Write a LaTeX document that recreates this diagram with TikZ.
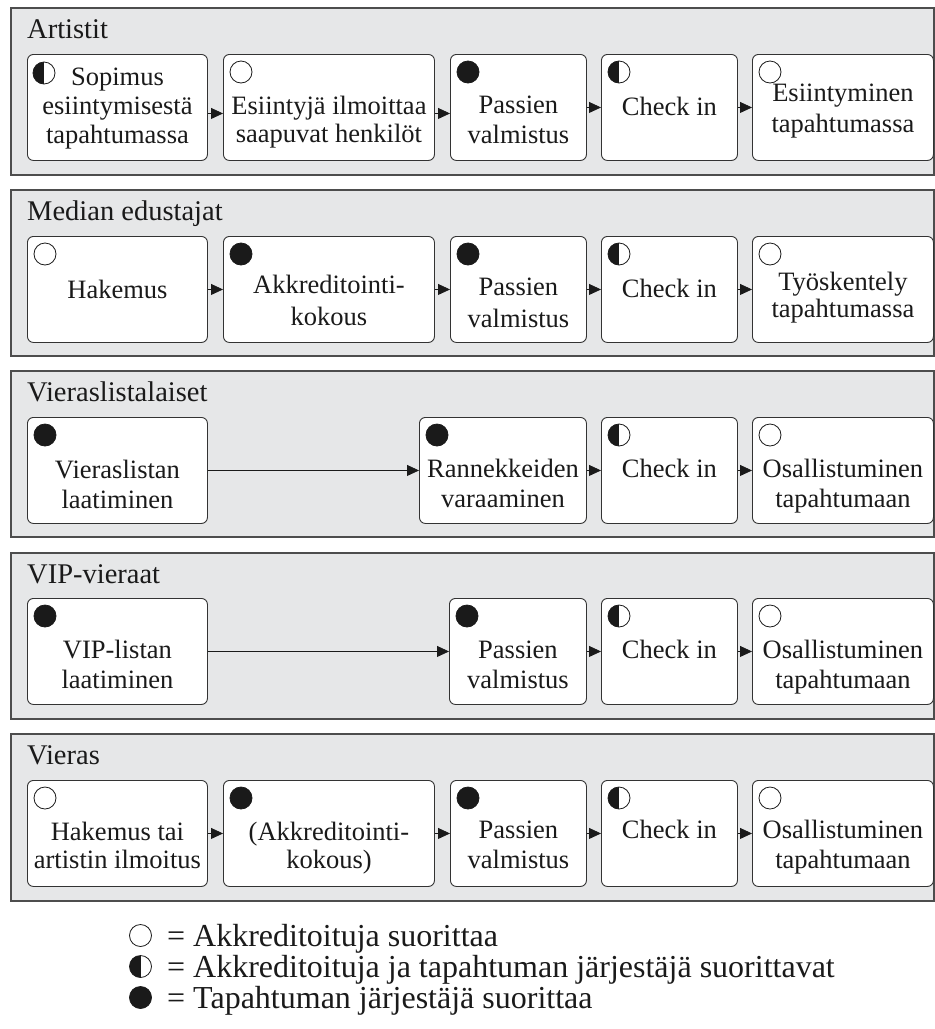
\documentclass[tikz,border=0pt]{standalone}
\usepackage{fontspec}
\setmainfont{Liberation Serif}
\usetikzlibrary{arrows.meta}
\definecolor{lanefill}{HTML}{E6E7E8}
\definecolor{laneline}{HTML}{4D4D4D}
\definecolor{boxline}{HTML}{333333}
\definecolor{ink}{HTML}{1A1A1A}
% centred lines whose reference point is the first baseline
\newcommand{\lns}[1]{\begin{tabular}[t]{@{}c@{}}#1\end{tabular}}

\begin{document}
\begin{tikzpicture}[x=1pt,y=-1pt,
  lane/.style={draw=laneline,fill=lanefill,line width=1.3pt},
  lanetitle/.style={anchor=base west,inner sep=0pt,text=ink,font=\fontsize{28.5}{32}\selectfont},
  actbox/.style={draw=boxline,fill=white,line width=0.9pt,rounded corners=6pt,
    anchor=north west,minimum height=106pt,inner sep=0pt},
  txt/.style={anchor=base,inner sep=0pt,text=ink,font=\fontsize{26.5}{30}\selectfont},
  icon/.style={circle,draw=ink,line width=0.8pt,minimum size=22pt,inner sep=0pt},
  iconopen/.style={icon,fill=white},
  iconfull/.style={icon,fill=ink},
  iconhalf/.style={icon,fill=white,path picture={\fill[ink] (path picture bounding box.south west) rectangle (path picture bounding box.north);}},
  flow/.style={draw=ink,line width=0.8pt,-{Triangle[length=12pt,width=11pt]}},
  legtxt/.style={anchor=base west,inner sep=0pt,text=ink,font=\fontsize{32}{34}\selectfont}
]
\useasboundingbox (0,0) rectangle (935,1029);

% swim lanes
\draw[lane] (11,8) rectangle (934,175);
\draw[lane] (11,190) rectangle (934,356);
\draw[lane] (11,371) rectangle (934,537);
\draw[lane] (11,553) rectangle (934,719);
\draw[lane] (11,734) rectangle (934,901);

\node[lanetitle] (l1) at (27,38) {Artistit};
\node[lanetitle] (l2) at (27,220) {Median edustajat};
\node[lanetitle] (l3) at (27,401) {Vieraslistalaiset};
\node[lanetitle] (l4) at (27,583) {VIP-vieraat};
\node[lanetitle] (l5) at (27,764) {Vieras};

% ---- lane 1: Artistit
\node[actbox,minimum width=180pt] (a1) at (27,54) {};
\node[actbox,minimum width=211pt] (a2) at (223,54) {};
\node[actbox,minimum width=136pt] (a3) at (450,54) {};
\node[actbox,minimum width=136pt] (a4) at (601,54) {};
\node[actbox,minimum width=181pt] (a5) at (752,54) {};
\node[iconhalf] (a1i) at ([xshift=17pt,yshift=-19pt]a1.north west) {};
\node[iconopen] (a2i) at ([xshift=18pt,yshift=-18pt]a2.north west) {};
\node[iconfull] (a3i) at ([xshift=18pt,yshift=-18pt]a3.north west) {};
\node[iconhalf] (a4i) at ([xshift=18pt,yshift=-18pt]a4.north west) {};
\node[iconopen] (a5i) at ([xshift=18pt,yshift=-18pt]a5.north west) {};
\node[txt] (a1t) at ([yshift=-31pt]a1.north) {\lns{Sopimus\\[-1pt] esiintymisestä\\[-1pt] tapahtumassa}};
\node[txt] (a2t) at ([yshift=-60pt]a2.north) {\lns{Esiintyjä ilmoittaa\\[-2pt] saapuvat henkilöt}};
\node[txt] (a3t) at ([yshift=-59pt]a3.north) {\lns{Passien\\ valmistus}};
\node[txt] (a4t) at ([yshift=-61pt]a4.north) {Check in};
\node[txt] (a5t) at ([yshift=-47pt]a5.north) {\lns{Esiintyminen\\[1pt] tapahtumassa}};
\draw[flow] ([yshift=-6pt]a1.east) -- ([yshift=-6pt]a2.west);
\draw[flow] ([yshift=-6pt]a2.east) -- ([yshift=-6pt]a3.west);
\draw[flow] (a3.east) -- (a4.west);
\draw[flow] (a4.east) -- (a5.west);

% ---- lane 2: Median edustajat
\node[actbox,minimum width=180pt] (b1) at (27,236) {};
\node[actbox,minimum width=211pt] (b2) at (223,236) {};
\node[actbox,minimum width=136pt] (b3) at (450,236) {};
\node[actbox,minimum width=136pt] (b4) at (601,236) {};
\node[actbox,minimum width=181pt] (b5) at (752,236) {};
\node[iconopen] (b1i) at ([xshift=18pt,yshift=-18pt]b1.north west) {};
\node[iconfull] (b2i) at ([xshift=18pt,yshift=-18pt]b2.north west) {};
\node[iconfull] (b3i) at ([xshift=18pt,yshift=-18pt]b3.north west) {};
\node[iconhalf] (b4i) at ([xshift=18pt,yshift=-18pt]b4.north west) {};
\node[iconopen] (b5i) at ([xshift=18pt,yshift=-18pt]b5.north west) {};
\node[txt] (b1t) at ([yshift=-62pt]b1.north) {Hakemus};
\node[txt] (b2t) at ([yshift=-57pt]b2.north) {\lns{Akkreditointi-\\[2pt] kokous}};
\node[txt] (b3t) at ([yshift=-59pt]b3.north) {\lns{Passien\\[2pt] valmistus}};
\node[txt] (b4t) at ([yshift=-61pt]b4.north) {Check in};
\node[txt] (b5t) at ([yshift=-54pt]b5.north) {\lns{Työskentely\\[-3pt] tapahtumassa}};
\draw[flow] (b1.east) -- (b2.west);
\draw[flow] (b2.east) -- (b3.west);
\draw[flow] (b3.east) -- (b4.west);
\draw[flow] (b4.east) -- (b5.west);

% ---- lane 3: Vieraslistalaiset
\node[actbox,minimum width=180pt] (c1) at (27,417) {};
\node[actbox,minimum width=167pt] (c3) at (419,417) {};
\node[actbox,minimum width=136pt] (c4) at (601,417) {};
\node[actbox,minimum width=181pt] (c5) at (752,417) {};
\node[iconfull] (c1i) at ([xshift=18pt,yshift=-18pt]c1.north west) {};
\node[iconfull] (c3i) at ([xshift=18pt,yshift=-18pt]c3.north west) {};
\node[iconhalf] (c4i) at ([xshift=18pt,yshift=-18pt]c4.north west) {};
\node[iconopen] (c5i) at ([xshift=18pt,yshift=-18pt]c5.north west) {};
\node[txt] (c1t) at ([yshift=-61pt]c1.north) {\lns{Vieraslistan\\ laatiminen}};
\node[txt] (c3t) at ([yshift=-60pt]c3.north) {\lns{Rannekkeiden\\ varaaminen}};
\node[txt] (c4t) at ([yshift=-60pt]c4.north) {Check in};
\node[txt] (c5t) at ([yshift=-60pt]c5.north) {\lns{Osallistuminen\\ tapahtumaan}};
\draw[flow] (c1.east) -- (c3.west);
\draw[flow] (c3.east) -- (c4.west);
\draw[flow] (c4.east) -- (c5.west);

% ---- lane 4: VIP-vieraat
\node[actbox,minimum width=180pt] (d1) at (27,598) {};
\node[actbox,minimum width=137pt] (d3) at (449,598) {};
\node[actbox,minimum width=136pt] (d4) at (601,598) {};
\node[actbox,minimum width=181pt] (d5) at (752,598) {};
\node[iconfull] (d1i) at ([xshift=18pt,yshift=-18pt]d1.north west) {};
\node[iconfull] (d3i) at ([xshift=18pt,yshift=-18pt]d3.north west) {};
\node[iconhalf] (d4i) at ([xshift=18pt,yshift=-18pt]d4.north west) {};
\node[iconopen] (d5i) at ([xshift=18pt,yshift=-18pt]d5.north west) {};
\node[txt] (d1t) at ([yshift=-60pt]d1.north) {\lns{VIP-listan\\ laatiminen}};
\node[txt] (d3t) at ([yshift=-60pt]d3.north) {\lns{Passien\\ valmistus}};
\node[txt] (d4t) at ([yshift=-60pt]d4.north) {Check in};
\node[txt] (d5t) at ([yshift=-60pt]d5.north) {\lns{Osallistuminen\\ tapahtumaan}};
\draw[flow] (d1.east) -- (d3.west);
\draw[flow] (d3.east) -- (d4.west);
\draw[flow] (d4.east) -- (d5.west);

% ---- lane 5: Vieras
\node[actbox,minimum width=180pt] (e1) at (27,780) {};
\node[actbox,minimum width=211pt] (e2) at (223,780) {};
\node[actbox,minimum width=136pt] (e3) at (450,780) {};
\node[actbox,minimum width=136pt] (e4) at (601,780) {};
\node[actbox,minimum width=181pt] (e5) at (752,780) {};
\node[iconopen] (e1i) at ([xshift=18pt,yshift=-18pt]e1.north west) {};
\node[iconfull] (e2i) at ([xshift=18pt,yshift=-18pt]e2.north west) {};
\node[iconfull] (e3i) at ([xshift=18pt,yshift=-18pt]e3.north west) {};
\node[iconhalf] (e4i) at ([xshift=18pt,yshift=-18pt]e4.north west) {};
\node[iconopen] (e5i) at ([xshift=18pt,yshift=-18pt]e5.north west) {};
\node[txt] (e1t) at ([yshift=-60pt]e1.north) {\lns{Hakemus tai\\[-2pt] artistin ilmoitus}};
\node[txt] (e2t) at ([yshift=-60pt]e2.north) {\lns{(Akkreditointi-\\[-2pt] kokous)}};
\node[txt] (e3t) at ([yshift=-58pt]e3.north) {\lns{Passien\\ valmistus}};
\node[txt] (e4t) at ([yshift=-58pt]e4.north) {Check in};
\node[txt] (e5t) at ([yshift=-58pt]e5.north) {\lns{Osallistuminen\\ tapahtumaan}};
\draw[flow] (e1.east) -- (e2.west);
\draw[flow] (e2.east) -- (e3.west);
\draw[flow] (e3.east) -- (e4.west);
\draw[flow] (e4.east) -- (e5.west);

% ---- legend
\node[iconopen] (k1) at (140.5,935.5) {};
\node[iconhalf] (k2) at (140.5,966.5) {};
\node[iconfull] (k3) at (140.5,997.5) {};
\node[legtxt] (k1e) at (167,946) {=};
\node[legtxt] (k2e) at (167,977) {=};
\node[legtxt] (k3e) at (167,1008) {=};
\node[legtxt] (k1t) at (193,946) {Akkreditoituja suorittaa};
\node[legtxt] (k2t) at (193,977) {Akkreditoituja ja tapahtuman järjestäjä suorittavat};
\node[legtxt] (k3t) at (193,1008) {Tapahtuman järjestäjä suorittaa};
\end{tikzpicture}
\end{document}
